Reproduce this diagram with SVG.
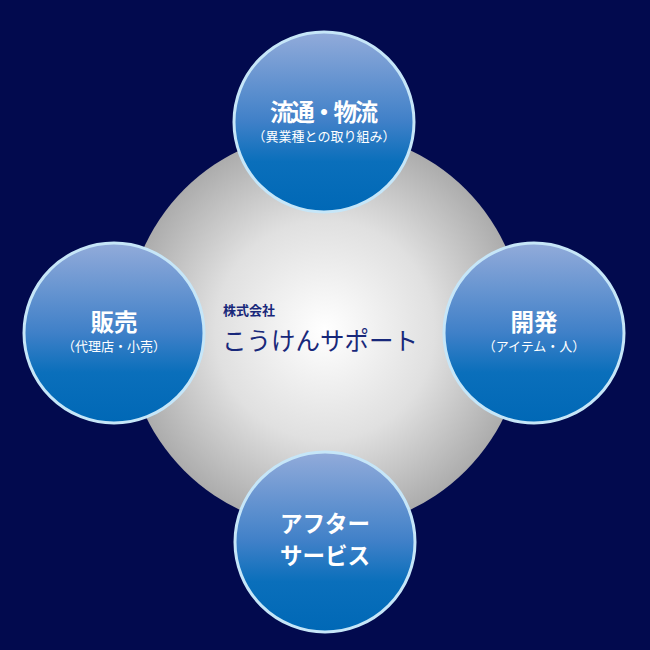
<svg xmlns="http://www.w3.org/2000/svg" width="650" height="650" viewBox="0 0 650 650">
<defs>
<radialGradient id="gray" cx="325" cy="330" r="199" gradientUnits="userSpaceOnUse">
<stop offset="0" stop-color="#ffffff"/>
<stop offset="0.55" stop-color="#e0e0e0"/>
<stop offset="1" stop-color="#acacac"/>
</radialGradient>
<linearGradient id="blue" x1="0" y1="0" x2="0" y2="1">
<stop offset="0" stop-color="#92abda"/>
<stop offset="0.5" stop-color="#3f80c8"/>
<stop offset="0.72" stop-color="#0a6fbb"/>
<stop offset="1" stop-color="#0068b6"/>
</linearGradient>
</defs>
<style>
.node{fill:url(#blue);stroke:#c6e6f8;stroke-width:3}
.t{font-family:"Noto Sans CJK JP","Noto Sans",sans-serif;fill:#ffffff;text-anchor:middle}
.h{font-size:23.5px;font-weight:bold}
.b{font-size:22.5px;font-weight:bold}
.s{font-size:13px}
.c{font-family:"Noto Sans CJK JP","Noto Sans",sans-serif;fill:#18287a}
</style>
<rect width="650" height="650" fill="#020a4e"/>
<g id="center">
<circle cx="325" cy="330" r="199" fill="url(#gray)"/>
<text class="c" x="223" y="315" font-size="13" font-weight="bold">株式会社</text>
<text class="c" x="222" y="350" font-size="24.5" textLength="196" lengthAdjust="spacingAndGlyphs">こうけんサポート</text>
</g>
<g id="connectors"></g>
<g id="node-top">
<circle class="node" cx="324" cy="122" r="90"/>
<text class="t h" x="324" y="121" textLength="108" lengthAdjust="spacing">流通・物流</text>
<text class="t s" x="324" y="141">（異業種との取り組み）</text>
</g>
<g id="node-left">
<circle class="node" cx="114" cy="333" r="90"/>
<text class="t h" x="114" y="331">販売</text>
<text class="t s" x="114" y="351">（代理店・小売）</text>
</g>
<g id="node-right">
<circle class="node" cx="534" cy="333" r="90"/>
<text class="t h" x="534" y="331">開発</text>
<text class="t s" x="534" y="351">（アイテム・人）</text>
</g>
<g id="node-bottom">
<circle class="node" cx="325" cy="542" r="90"/>
<text class="t b" x="325" y="532">アフター</text>
<text class="t b" x="325" y="564">サービス</text>
</g>
</svg>
